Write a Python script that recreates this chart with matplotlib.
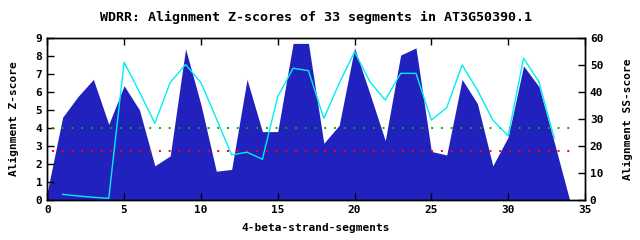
import matplotlib.pyplot as plt

# Z-score per segment position (left axis)
seg = list(range(0, 35))
zscore = [0.45, 4.6, 5.75, 6.7, 4.2, 6.35, 5.0, 1.9, 2.45, 8.4,
          5.3, 1.6, 1.7, 6.7, 3.8, 3.8, 8.7, 8.7, 3.15, 4.15,
          8.45, 5.9, 3.3, 8.05, 8.45, 2.7, 2.5, 6.7, 5.35, 1.9,
          3.5, 7.45, 6.3, 3.2, 0.0]

# SS-score (right axis)
ss_seg = list(range(1, 34))
ss_score = [2.1, 1.5, 1.0, 0.6, 51.0, 40.0, 28.4, 43.5, 50.2, 43.5,
            30.2, 16.7, 17.7, 15.1, 38.3, 48.8, 47.9, 30.2, 43.2, 54.9,
            43.8, 37.0, 46.9, 46.9, 29.6, 34.2, 50.0, 40.7, 29.6, 23.7,
            52.5, 43.8, 22.8]

green_level = 4.0
red_level = 2.75

plt.rcParams["font.family"] = "DejaVu Sans Mono"
plt.rcParams["font.weight"] = "bold"
plt.rcParams["font.size"] = 8

fig = plt.figure(figsize=(6.4, 2.4), dpi=100)
ax = fig.add_axes([47.3 / 640, 40 / 240, (585 - 47.3) / 640, 162 / 240])

ax.fill_between(seg, zscore, 0, color="#2121bd", linewidth=0)
ax.plot([0.3, 34], [green_level, green_level], color="#00b000",
        linestyle=(0, (1, 4)), linewidth=1.4)
ax.plot([0.3, 34], [red_level, red_level], color="#ff0000",
        linestyle=(0, (1, 4)), linewidth=1.4)

ax.set_xlim(0, 35)
ax.set_ylim(0, 9)
ax.set_xticks(range(0, 36, 5))
ax.set_yticks(range(0, 10))
ax.tick_params(direction="in", length=5, width=1, top=True, right=False)
ax.set_xlabel("4-beta-strand-segments", fontweight="bold", labelpad=6)
ax.set_ylabel("Alignment Z-score", fontweight="bold", labelpad=12)
ax.set_title("WDRR: Alignment Z-scores of 33 segments in AT3G50390.1",
             fontweight="bold", pad=12)

ax2 = ax.twinx()
ax2.plot(ss_seg, ss_score, color="#00eeee", linewidth=1)
ax2.set_ylim(0, 60)
ax2.set_yticks(range(0, 61, 10))
ax2.tick_params(direction="in", length=5, width=1)
ax2.set_ylabel("Alignment SS-score", fontweight="bold", labelpad=14)

for a in (ax, ax2):
    for s in a.spines.values():
        s.set_linewidth(1)

fig.savefig("out.png", dpi=100)
